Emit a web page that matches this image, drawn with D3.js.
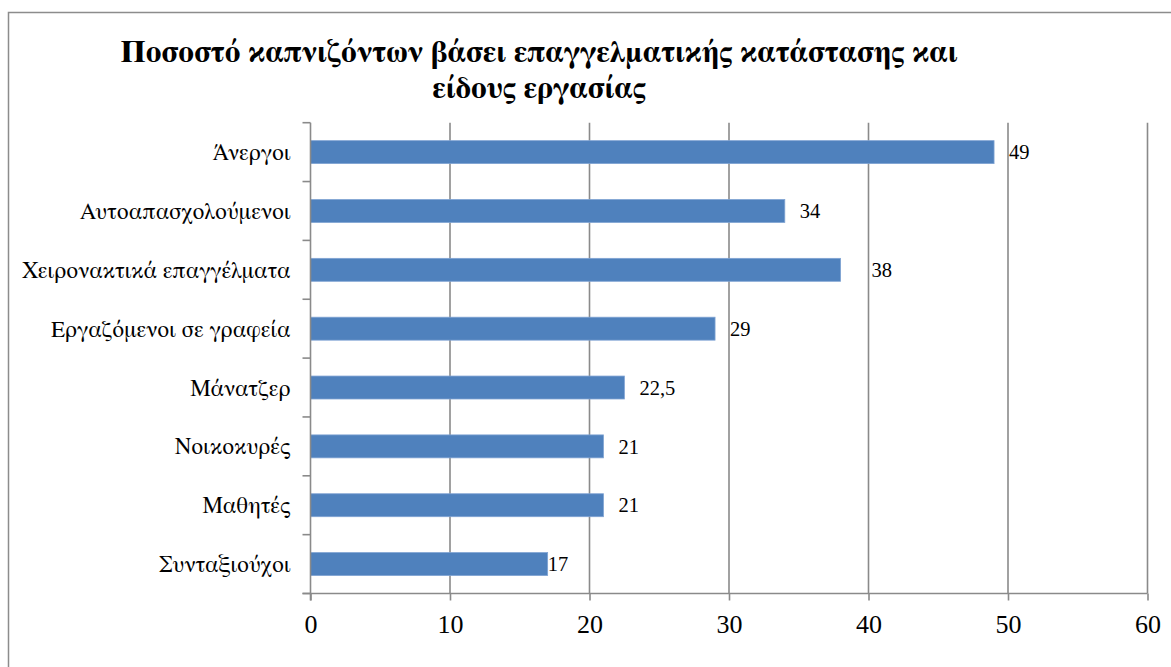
<!DOCTYPE html>
<html lang="el">
<head>
<meta charset="utf-8">
<script src="https://cdn.jsdelivr.net/npm/d3@7"></script>
<style>
  html, body { margin: 0; padding: 0; background: #fff; }
  svg { display: block; }
  text { font-family: "FreeSerif", "Liberation Serif", serif; fill: #000; }
  text.num { font-family: "Liberation Serif", serif; }
</style>
</head>
<body>
<svg id="chart" width="1171" height="667"></svg>
<script>
// Smokers by employment status and type of work (%)
const categories = [
  "Άνεργοι",
  "Αυτοαπασχολούμενοι",
  "Χειρονακτικά επαγγέλματα",
  "Εργαζόμενοι σε γραφεία",
  "Μάνατζερ",
  "Νοικοκυρές",
  "Μαθητές",
  "Συνταξιούχοι"
];
const values = [49, 34, 38, 29, 22.5, 21, 21, 17];
const valueLabels = ["49", "34", "38", "29", "22,5", "21", "21", "17"];
const xTicks = [0, 10, 20, 30, 40, 50, 60];
const titleLines = [
  "Ποσοστό καπνιζόντων βάσει επαγγελματικής κατάστασης και",
  "είδους εργασίας"
];

const svg = d3.select("#chart");
const W = 1171, H = 667;
const plot = { left: 310.5, right: 1147.5, top: 122.7, bottom: 593.5 };
const axisColor = "#8a8a8a";
const barColor = "#4f81bd";

// outer frame
svg.append("rect")
  .attr("x", 8.5).attr("y", 12.5)
  .attr("width", W + 20).attr("height", H + 20)
  .attr("fill", "#fff")
  .attr("stroke", "#8c8c8c").attr("stroke-width", 1.5);

// title
const title = svg.append("text")
  .attr("text-anchor", "middle")
  .attr("font-weight", "bold")
  .attr("font-size", 31);
titleLines.forEach((t, i) => {
  title.append("tspan")
    .attr("x", 539)
    .attr("y", 62 + i * 36)
    .text(t);
});

const x = d3.scaleLinear().domain([0, 60]).range([plot.left, plot.right]);
const y = d3.scaleBand().domain(categories).range([plot.top, plot.bottom]).padding(0);
const barH = y.bandwidth() * 0.39;

// vertical gridlines
svg.append("g")
  .selectAll("line")
  .data(xTicks.slice(1))
  .join("line")
  .attr("x1", d => x(d)).attr("x2", d => x(d))
  .attr("y1", plot.top).attr("y2", plot.bottom)
  .attr("stroke", axisColor).attr("stroke-width", 1.6);

// bars
svg.append("g")
  .selectAll("rect")
  .data(categories)
  .join("rect")
  .attr("x", x(0))
  .attr("y", (d) => y(d) + (y.bandwidth() - barH) / 2)
  .attr("width", (d, i) => x(values[i]) - x(0))
  .attr("height", barH)
  .attr("fill", barColor)
  .attr("stroke", "#7fa3d3")
  .attr("stroke-width", 0.8);

// x axis
const xAxis = d3.axisBottom(x).tickValues(xTicks).tickSize(7).tickPadding(14)
  .tickFormat(d3.format("d"));
const gx = svg.append("g")
  .attr("transform", `translate(0,${plot.bottom})`)
  .call(xAxis)
  .attr("font-family", null);
gx.select(".domain").remove();
gx.append("line")
  .attr("x1", plot.left - 8).attr("x2", plot.right)
  .attr("stroke", axisColor).attr("stroke-width", 1.6);
gx.selectAll(".tick line").attr("stroke", axisColor).attr("stroke-width", 1.6);
gx.selectAll(".tick text")
  .attr("class", "num")
  .attr("font-size", 26)
  .attr("fill", "#000");

// y axis: line plus boundary ticks between categories
const gy = svg.append("g");
gy.append("line")
  .attr("x1", plot.left).attr("x2", plot.left)
  .attr("y1", plot.top).attr("y2", plot.bottom + 7)
  .attr("stroke", axisColor).attr("stroke-width", 1.6);
const bounds = categories.map(c => y(c)).concat([plot.bottom]);
gy.selectAll("line.b")
  .data(bounds)
  .join("line")
  .attr("class", "b")
  .attr("x1", plot.left - 8).attr("x2", plot.left)
  .attr("y1", d => d).attr("y2", d => d)
  .attr("stroke", axisColor).attr("stroke-width", 1.6);

// category labels
svg.append("g")
  .selectAll("text")
  .data(categories)
  .join("text")
  .attr("x", plot.left - 20)
  .attr("y", d => y(d) + y.bandwidth() / 2)
  .attr("dy", "0.35em")
  .attr("text-anchor", "end")
  .attr("font-size", 23)
  .text(d => d);

// value labels at the end of each bar
const labelNudge = { "Χειρονακτικά επαγγέλματα": 16, "Συνταξιούχοι": -15 };
svg.append("g")
  .selectAll("text")
  .data(categories)
  .join("text")
  .attr("class", "num")
  .attr("x", (d, i) => x(values[i]) + 15 + (labelNudge[d] || 0))
  .attr("y", d => y(d) + y.bandwidth() / 2)
  .attr("dy", "0.35em")
  .attr("font-size", 20.5)
  .text((d, i) => valueLabels[i]);
</script>
</body>
</html>
